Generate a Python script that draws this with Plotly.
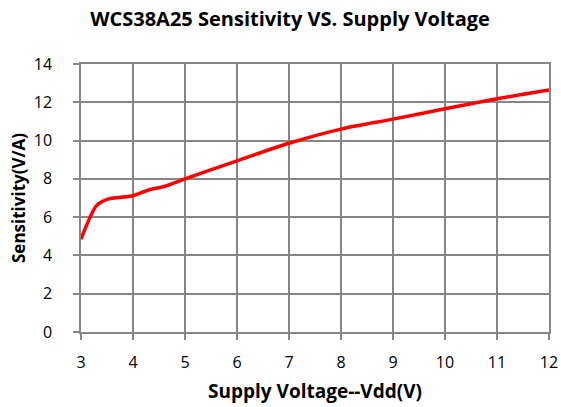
import plotly.graph_objects as go

vdd = [3.0, 3.3, 3.5, 4.0, 4.3, 4.6, 5.0, 6.0, 7.0, 8.0, 9.0, 10.0, 11.0, 12.0]
sensitivity = [4.85, 6.6, 6.93, 7.12, 7.42, 7.6, 8.0, 8.94, 9.86, 10.6, 11.12, 11.66, 12.18, 12.64]

x_ticks = list(range(3, 13))
y_ticks = list(range(0, 15, 2))

fig = go.Figure(go.Scatter(
    x=vdd, y=sensitivity, mode="lines",
    line=dict(color="#FF0000", width=3.5, shape="spline", smoothing=0.8),
    showlegend=False, hoverinfo="skip"))

font_family = "Open Sans"
grid_col = "#868686"
tick_font = dict(family=font_family, size=16, color="black")
fig.update_layout(
    width=561, height=407,
    margin=dict(l=81, r=12, t=64, b=75),
    paper_bgcolor="white", plot_bgcolor="white",
    title=dict(text="<b>WCS38A25 Sensitivity VS. Supply Voltage</b>",
               x=0.517, xanchor="center", y=0.953, yanchor="middle",
               font=dict(family=font_family, size=20, color="black")),
    xaxis=dict(range=[3, 12], tickvals=x_ticks, showgrid=True, gridcolor=grid_col, gridwidth=1.5,
               showline=True, linecolor=grid_col, linewidth=1.5, mirror=True,
               ticks="outside", ticklen=6, tickcolor=grid_col, tickwidth=1.5,
               ticklabelstandoff=9, ticklabeloverflow="allow", automargin=False,
               zeroline=False, tickfont=tick_font,
               title=dict(text="<b>Supply Voltage--Vdd(V)</b>", standoff=13,
                          font=dict(family=font_family, size=19, color="black"))),
    yaxis=dict(range=[0, 14], tickvals=y_ticks, showgrid=True, gridcolor=grid_col, gridwidth=1.5,
               showline=True, linecolor=grid_col, linewidth=1.5, mirror=True,
               ticks="outside", ticklen=6, tickcolor=grid_col, tickwidth=1.5,
               ticklabelstandoff=18, ticklabeloverflow="allow", automargin=False,
               zeroline=False, tickfont=tick_font,
               title=dict(text="<b>Sensitivity(V/A)</b>", standoff=4,
                          font=dict(family=font_family, size=17, color="black"))),
)

fig.write_html("out.html", config={"displayModeBar": False},
               post_script="document.body.style.margin='0';document.body.style.overflow='hidden';")
